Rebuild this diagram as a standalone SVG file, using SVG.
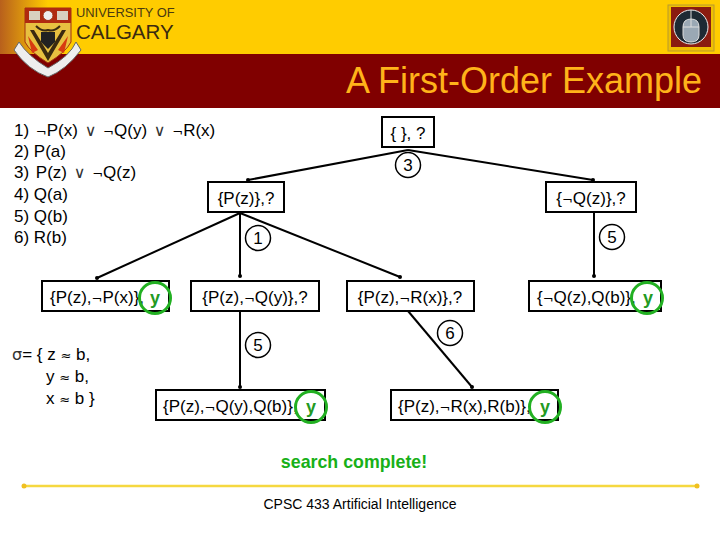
<svg xmlns="http://www.w3.org/2000/svg" width="720" height="540" viewBox="0 0 720 540">
<style>
text{font-family:"Liberation Sans",Arial,sans-serif;fill:#000}
.t{font-size:17px}
.w{word-spacing:2px}
.n{font-size:17px;text-anchor:middle}
.l{font-size:17px}
.s{font-family:"DejaVu Sans",sans-serif;font-size:13px}
.v{font-family:"DejaVu Sans",sans-serif;font-size:16px;fill:#333}
.box{fill:#fff;stroke:#000;stroke-width:2}
.lab{fill:#fff;stroke:#000;stroke-width:1.500}
.cl{font-size:17px;text-anchor:middle}
.ring{fill:none;stroke:#22b022;stroke-width:3}
.y{font-size:18px;font-weight:bold;fill:#229a22;text-anchor:middle}
.c line{stroke:#000;stroke-width:2;marker-end:url(#dot)}
</style>
<defs>
<marker id="dot" markerWidth="4" markerHeight="4" refX="2" refY="2" markerUnits="userSpaceOnUse"><circle cx="2" cy="2" r="2" fill="#000"/></marker>
<linearGradient id="hg" x1="0" x2="1" y1="0" y2="0"><stop offset="0" stop-color="#b8601c"/><stop offset="1" stop-color="#ffcc00"/></linearGradient>
</defs>
<rect width="720" height="540" fill="#fff"/>
<g id="header">
<rect width="720" height="55" fill="#ffcc00"/>
<rect width="48" height="54" fill="url(#hg)"/>
<rect y="54" width="720" height="54" fill="#800000"/>
<text x="702" y="93" text-anchor="end" style="font-size:36px;fill:#ffb31a">A First-Order Example</text>
<g id="crest">
<path d="M25 8H71V42Q66 52 48 63Q30 52 25 42Z" fill="#e8c040" stroke="#a03010" stroke-width="1"/>
<rect x="25" y="8" width="46" height="15" fill="#b02a10"/>
<rect x="29" y="11" width="11" height="9" fill="#d8d0c0"/><circle cx="48" cy="15.500" r="5" fill="#eee" stroke="#a03010"/><rect x="57" y="11" width="11" height="9" fill="#d8d0c0"/>
<path d="M30 30L48 61L66 30L62 30L48 53L34 30Z" fill="#3a2a10"/>
<path d="M28 36L38 50L32 53Z M68 36L58 50L64 53Z" fill="#d83a10"/>
<path d="M41 32H55V42L48 49L41 42Z" fill="#222"/>
<path d="M36 26Q42 32 48 30Q54 32 60 26" fill="none" stroke="#3a2a10" stroke-width="2"/>
<path d="M19 42L14 50Q28 70 48 77Q66 70 81 50L76 42Q70 56 48 68Q28 56 19 42Z" fill="#eeeeee" stroke="#666" stroke-width="1"/>
</g>
<text x="76" y="17" style="font-size:12.900px;fill:#4a3a10">UNIVERSITY OF</text>
<text x="76" y="38.500" style="font-size:20.500px;fill:#3a2a10">CALGARY</text>
<g id="mouse-icon">
<rect x="668" y="5" width="46" height="46" fill="#f0c000" stroke="#b89a30" stroke-width="1"/>
<rect x="671" y="7" width="40" height="40" fill="#8a1c10"/>
<circle cx="691" cy="27" r="17" fill="#1e2a34" stroke="#eeeeee" stroke-width="1"/>
<path d="M691 10V19M683 27Q683 19 691 19Q699 19 699 27V35Q699 42 691 42Q683 42 683 35Z" fill="#9aa8b4" stroke="#ddd" stroke-width="1"/>
<path d="M683 27H699M691 19V27" stroke="#ddd" fill="none"/>
</g>
</g>
<g id="clauses">
<text class="t w" x="14" y="136">1) <tspan class="s">¬</tspan>P(x) <tspan class="v">∨</tspan> <tspan class="s">¬</tspan>Q(y) <tspan class="v">∨</tspan> <tspan class="s">¬</tspan>R(x)</text>
<text class="t" x="14" y="157">2) P(a)</text>
<text class="t w" x="14" y="178">3) P(z) <tspan class="v">∨</tspan> <tspan class="s">¬</tspan>Q(z)</text>
<text class="t" x="14" y="200">4) Q(a)</text>
<text class="t" x="14" y="222">5) Q(b)</text>
<text class="t" x="14" y="243">6) R(b)</text>
</g>
<g id="connectors" class="c">
<line x1="408" y1="150" x2="248" y2="180"/>
<line x1="408" y1="150" x2="593" y2="180"/>
<line x1="240" y1="213" x2="97" y2="278"/>
<line x1="240" y1="213" x2="240" y2="276"/>
<line x1="240" y1="213" x2="400" y2="277"/>
<line x1="594" y1="213" x2="594" y2="276"/>
<line x1="240" y1="311" x2="240" y2="387"/>
<line x1="408" y1="311" x2="472" y2="387"/>
</g>
<g id="n-root"><rect class="box" x="382" y="117" width="52" height="30"/><text class="n" x="408" y="139">{ }, ?</text></g>
<g id="n-pz"><rect class="box" x="208" y="182" width="76" height="30"/><text class="n" x="246" y="204">{P(z)},?</text></g>
<g id="n-nqz"><rect class="box" x="546" y="182" width="90" height="30"/><text class="n" x="591" y="204">{<tspan class="s">¬</tspan>Q(z)},?</text></g>
<g id="n-a"><rect class="box" x="42" y="281" width="127" height="30"/><text class="l" x="50" y="303">{P(z),<tspan class="s">¬</tspan>P(x)},</text><text class="y" x="155" y="304">y</text><circle class="ring" cx="155" cy="298" r="15.500"/></g>
<g id="n-b"><rect class="box" x="191" y="281" width="128" height="30"/><text class="n" x="255" y="303">{P(z),<tspan class="s">¬</tspan>Q(y)},?</text></g>
<g id="n-c"><rect class="box" x="347" y="281" width="127" height="30"/><text class="n" x="410" y="303">{P(z),<tspan class="s">¬</tspan>R(x)},?</text></g>
<g id="n-d"><rect class="box" x="529" y="281" width="132" height="30"/><text class="l" x="537" y="303">{<tspan class="s">¬</tspan>Q(z),Q(b)},</text><text class="y" x="648" y="304">y</text><circle class="ring" cx="647" cy="298" r="15.500"/></g>
<g id="n-e"><rect class="box" x="156" y="390" width="169" height="30"/><text class="l" x="163" y="412">{P(z),<tspan class="s">¬</tspan>Q(y),Q(b)},</text><text class="y" x="311" y="413">y</text><circle class="ring" cx="311" cy="407" r="15.500"/></g>
<g id="n-f"><rect class="box" x="391" y="390" width="167" height="30"/><text class="l" x="398" y="412">{P(z),<tspan class="s">¬</tspan>R(x),R(b)},</text><text class="y" x="545" y="413">y</text><circle class="ring" cx="545" cy="407" r="15.500"/></g>
<g id="l3"><circle class="lab" cx="408" cy="165" r="12.500"/><text class="cl" x="408" y="171">3</text></g>
<g id="l1"><circle class="lab" cx="258" cy="238" r="12.500"/><text class="cl" x="258" y="244">1</text></g>
<g id="l5a"><circle class="lab" cx="612" cy="237" r="12.500"/><text class="cl" x="612" y="243">5</text></g>
<g id="l5b"><circle class="lab" cx="258" cy="345" r="12.500"/><text class="cl" x="258" y="351">5</text></g>
<g id="l6"><circle class="lab" cx="450" cy="333" r="12.500"/><text class="cl" x="450" y="339">6</text></g>
<g id="sigma">
<text class="t" x="12" y="360"><tspan class="v">σ</tspan>= { z <tspan class="s">≈</tspan> b,</text>
<text class="t" x="46" y="382">y <tspan class="s">≈</tspan> b,</text>
<text class="t" x="46" y="404">x <tspan class="s">≈</tspan> b }</text>
</g>
<text x="354" y="468" text-anchor="middle" style="font-size:17.800px;font-weight:bold;fill:#18b018">search complete!</text>
<g id="rule"><line x1="24" y1="486" x2="697" y2="486" stroke="#f5d840" stroke-width="2.500"/><circle cx="24" cy="486" r="2.500" fill="#f0c020"/><circle cx="697" cy="486" r="2.500" fill="#f0c020"/></g>
<text x="360" y="509" text-anchor="middle" style="font-size:14px">CPSC 433 Artificial Intelligence</text>
</svg>
